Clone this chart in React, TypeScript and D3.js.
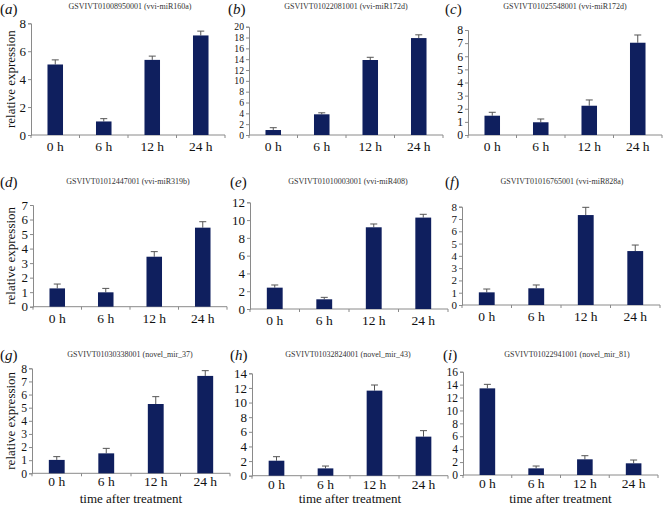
import React, { useEffect, useRef } from 'react';
import * as d3 from 'd3';

// ---- data ----
const timePoints = ['0 h', '6 h', '12 h', '24 h'];
const panelIds = ['a', 'b', 'c', 'd', 'e', 'f', 'g', 'h', 'i'];
const panelTitles = [
  'GSVIVT01008950001 (vvi-miR160a)',
  'GSVIVT01022081001 (vvi-miR172d)',
  'GSVIVT01025548001 (vvi-miR172d)',
  'GSVIVT01012447001 (vvi-miR319b)',
  'GSVIVT01010003001 (vvi-miR408)',
  'GSVIVT01016765001 (vvi-miR828a)',
  'GSVIVT01030338001 (novel_mir_37)',
  'GSVIVT01032824001 (novel_mir_43)',
  'GSVIVT01022941001 (novel_mir_81)',
];
const meanValues = [
  [5.05, 0.97, 5.38, 7.13],
  [0.92, 3.82, 13.85, 17.9],
  [1.47, 0.97, 2.23, 7.03],
  [1.26, 0.99, 3.44, 5.44],
  [2.4, 1.09, 9.19, 10.28],
  [1.03, 1.36, 7.32, 4.39],
  [1.02, 1.52, 5.28, 7.42],
  [2.05, 1.0, 11.63, 5.34],
  [13.42, 1.03, 2.43, 1.81],
];
const errorValues = [
  [0.33, 0.2, 0.27, 0.31],
  [0.43, 0.28, 0.5, 0.6],
  [0.26, 0.25, 0.44, 0.59],
  [0.3, 0.27, 0.35, 0.41],
  [0.3, 0.22, 0.37, 0.37],
  [0.27, 0.27, 0.63, 0.49],
  [0.25, 0.38, 0.56, 0.4],
  [0.55, 0.32, 0.77, 0.82],
  [0.62, 0.36, 0.56, 0.51],
];
const axisMax = [8, 20, 8, 7, 12, 8, 8, 14, 16];
const tickStep = [2, 2, 1, 1, 2, 1, 1, 2, 2];

// ---- layout (axis frame per panel: left, right, top tick y, zero y) ----
const frames = [
  { x0: 31, x1: 225, yTop: 23.3, y0: 135, row: 0, col: 0 },
  { x0: 249, x1: 443, yTop: 26.7, y0: 135, row: 0, col: 1 },
  { x0: 468, x1: 662, yTop: 30, y0: 135, row: 0, col: 2 },
  { x0: 33, x1: 227, yTop: 205, y0: 306.7, row: 1, col: 0 },
  { x0: 250, x1: 448, yTop: 202.3, y0: 309, row: 1, col: 1 },
  { x0: 462, x1: 660, yTop: 206.7, y0: 305, row: 1, col: 2 },
  { x0: 32, x1: 230, yTop: 368.3, y0: 473.3, row: 2, col: 0 },
  { x0: 252, x1: 448, yTop: 373.3, y0: 475.7, row: 2, col: 1 },
  { x0: 463, x1: 658, yTop: 371.7, y0: 475, row: 2, col: 2 },
];
const titlePos = [
  { x: 130, y: 9 }, { x: 346, y: 9 }, { x: 565, y: 9 },
  { x: 128, y: 184 }, { x: 348, y: 184 }, { x: 562, y: 184 },
  { x: 130, y: 357 }, { x: 348, y: 357 }, { x: 567, y: 357 },
];
const labelPos = [
  { x: 0, y: 14 }, { x: 228, y: 14 }, { x: 445, y: 14 },
  { x: 0, y: 187 }, { x: 230, y: 187 }, { x: 445, y: 187 },
  { x: 0, y: 360 }, { x: 230, y: 360 }, { x: 443, y: 360 },
];

const W = 663;
const H = 505;
const SERIF = "'Liberation Serif', 'Times New Roman', 'DejaVu Serif', serif";

export default function App() {
  const svgRef = useRef<SVGSVGElement>(null);

  useEffect(() => {
    if (!svgRef.current) return;
    const svg = d3.select(svgRef.current);
    svg.selectAll('*').remove();

    const colors = {
      bar: '#0f1f5e',
      axis: '#8a8a8a',
      text: '#111111',
      title: '#333333',
    };

    svg.append('rect').attr('width', W).attr('height', H).attr('fill', '#ffffff');

    panelIds.forEach((id, p) => {
      const f = frames[p];
      const g = svg.append('g').style('font-family', SERIF);

      const x = d3.scaleBand<string>()
        .domain(timePoints)
        .range([f.x0, f.x1])
        .paddingInner(0.68)
        .paddingOuter(0.34);
      const y = d3.scaleLinear().domain([0, axisMax[p]]).range([f.y0, f.yTop]);
      const ticks = d3.range(0, axisMax[p] + tickStep[p] / 2, tickStep[p]);
      const spacing = Math.abs(y(0) - y(tickStep[p]));
      const tickFont = Math.min(13, spacing / 1.12);

      // y axis
      const yAxis = g.append('g')
        .attr('transform', `translate(${f.x0},0)`)
        .call(d3.axisLeft(y).tickValues(ticks).tickSize(3).tickPadding(2).tickFormat(d3.format('d')));
      yAxis.attr('font-family', null);
      yAxis.select('.domain').attr('stroke', colors.axis);
      yAxis.selectAll('line').attr('stroke', colors.axis);
      yAxis.selectAll('text')
        .attr('fill', colors.text)
        .style('font-family', SERIF)
        .style('font-size', `${tickFont}px`);

      // x axis line with ticks at band edges
      g.append('line')
        .attr('x1', f.x0).attr('x2', f.x1).attr('y1', f.y0).attr('y2', f.y0)
        .attr('stroke', colors.axis);
      const step = x.step();
      d3.range(0, timePoints.length + 1).forEach(k => {
        const xx = f.x0 + k * step;
        g.append('line')
          .attr('x1', xx).attr('x2', xx).attr('y1', f.y0).attr('y2', f.y0 + 3)
          .attr('stroke', colors.axis);
      });

      // category labels
      g.selectAll('text.cat')
        .data(timePoints).enter().append('text')
        .attr('class', 'cat')
        .attr('x', d => (x(d) || 0) + x.bandwidth() / 2)
        .attr('y', f.y0 + (f.row === 2 ? 13 : 16))
        .attr('text-anchor', 'middle')
        .attr('fill', colors.text)
        .style('font-family', SERIF)
        .style('font-size', '13.5px')
        .text(d => d);

      const rows = timePoints.map((t, i) => ({ t, v: meanValues[p][i], e: errorValues[p][i] }));

      // error bars (upper only)
      rows.forEach(r => {
        const cx = (x(r.t) || 0) + x.bandwidth() / 2;
        g.append('line')
          .attr('x1', cx).attr('x2', cx).attr('y1', y(r.v)).attr('y2', y(r.v + r.e))
          .attr('stroke', '#555').attr('stroke-width', 1);
        g.append('line')
          .attr('x1', cx - 3.5).attr('x2', cx + 3.5).attr('y1', y(r.v + r.e)).attr('y2', y(r.v + r.e))
          .attr('stroke', '#555').attr('stroke-width', 1);
      });

      // bars
      g.selectAll('rect.bar')
        .data(rows).enter().append('rect')
        .attr('class', 'bar')
        .attr('x', d => x(d.t) || 0)
        .attr('y', d => y(d.v))
        .attr('width', x.bandwidth())
        .attr('height', d => f.y0 - y(d.v))
        .attr('fill', colors.bar);

      // panel title
      g.append('text')
        .attr('x', titlePos[p].x).attr('y', titlePos[p].y)
        .attr('text-anchor', 'middle')
        .attr('fill', colors.title)
        .style('font-family', SERIF)
        .style('font-size', '8px')
        .text(panelTitles[p]);

      // panel letter
      const lab = g.append('text')
        .attr('x', labelPos[p].x).attr('y', labelPos[p].y)
        .attr('fill', colors.text)
        .style('font-family', SERIF)
        .style('font-size', '15px');
      lab.append('tspan').text('(');
      lab.append('tspan').style('font-style', 'italic').text(id);
      lab.append('tspan').text(')');

      // y label on first column
      if (f.col === 0) {
        const cy = (f.y0 + f.yTop) / 2;
        g.append('text')
          .attr('transform', `translate(12,${cy}) rotate(-90)`)
          .attr('text-anchor', 'middle')
          .attr('dominant-baseline', 'middle')
          .attr('fill', colors.text)
          .style('font-family', SERIF)
          .style('font-size', '13px')
          .text('relative expression');
      }

      // x label on last row
      if (f.row === 2) {
        g.append('text')
          .attr('x', (f.x0 + f.x1) / 2).attr('y', 503)
          .attr('text-anchor', 'middle')
          .attr('fill', colors.text)
          .style('font-family', SERIF)
          .style('font-size', '13px')
          .text('time after treatment');
      }
    });
  }, []);

  return (
    <svg
      ref={svgRef}
      width={W}
      height={H}
      viewBox={`0 0 ${W} ${H}`}
      style={{ position: 'absolute', left: 0, top: 0, display: 'block' }}
    />
  );
}
